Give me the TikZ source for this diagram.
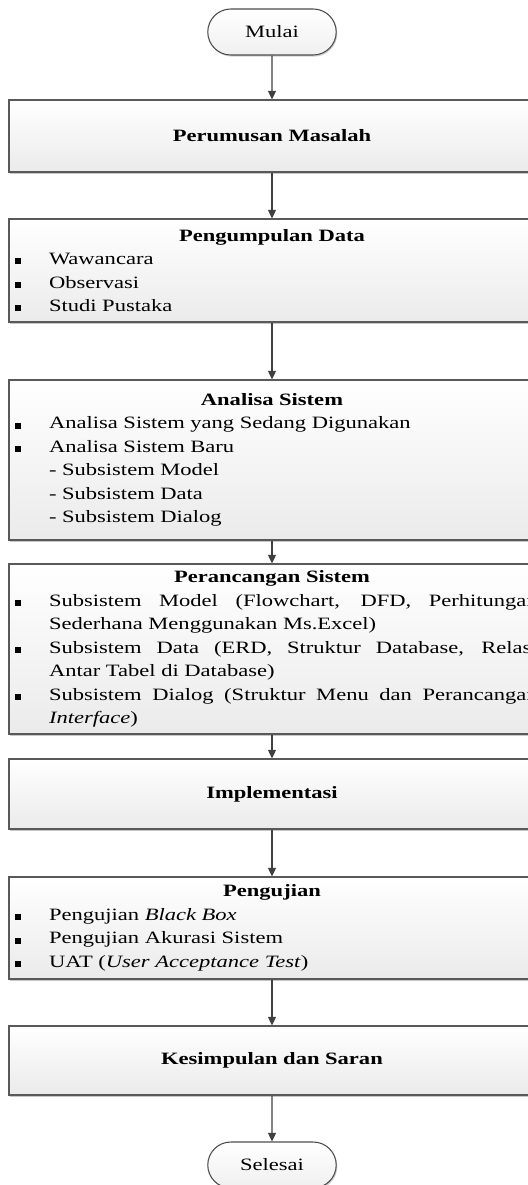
\documentclass[tikz,border=0pt]{standalone}
\usepackage{fontspec}
\setmainfont[FakeStretch=1.3]{Liberation Serif}
\usetikzlibrary{arrows.meta,shapes.misc,shadows}

\newcommand{\judul}[1]{{\centering\bfseries #1\par}}
\newcommand{\butir}[1]{{\spaceskip=0pt\rightskip=-5pt\noindent\hangindent=27pt\hangafter=1%
  \makebox[27pt][l]{\hspace{1.5pt}\rule[0.3pt]{4.5pt}{4.5pt}}#1\par}}
\newcommand{\subbutir}[1]{{\noindent\hspace*{27pt}#1\par}}

\begin{document}
\begin{tikzpicture}[x=0.75pt,y=-0.75pt,
  every node/.style={font=\fontsize{13}{17.6}\selectfont},
  kotak/.style={rectangle, draw=black!65, line width=0.8pt, align=justify,
    minimum width=394.5pt, text width=388.5pt, inner xsep=3pt, inner ysep=0pt,
    top color=white, bottom color=black!8,
    drop shadow={shadow xshift=0.8pt, shadow yshift=-1.5pt, fill=black!22, opacity=1}},
  terminal/.style={rounded rectangle, draw=black!70, line width=0.8pt,
    minimum width=103pt, minimum height=34.5pt,
    top color=white, bottom color=black!6,
    drop shadow={shadow xshift=0.8pt, shadow yshift=-1.2pt, fill=black!18, opacity=1}},
  panah/.style={draw=black!75, line width=1pt, -{Triangle[width=6pt,length=6.5pt]}}]
  \useasboundingbox (0,0) rectangle (528,1185);
  % Mulai
  \node[terminal] (mulai) at (272,32) {Mulai};
  % Perumusan masalah
  \node[kotak, minimum height=54pt] (rumusan) at (272,136)
    {\judul{Perumusan Masalah}};
  % Pengumpulan data
  \node[kotak, minimum height=77.25pt] (kumpul) at (272,270.5)
    {\judul{Pengumpulan Data}
     \butir{Wawancara}
     \butir{Observasi}
     \butir{Studi Pustaka}};
  % Analisa sistem
  \node[kotak, minimum height=120pt] (analisa) at (272,460)
    {\judul{Analisa Sistem}
     \butir{Analisa Sistem yang Sedang Digunakan}
     \butir{Analisa Sistem Baru}
     \subbutir{- Subsistem Model}
     \subbutir{- Subsistem Data}
     \subbutir{- Subsistem Dialog}};
  % Perancangan sistem
  \node[kotak, minimum height=127.5pt] (rancang) at (272,649)
    {\judul{Perancangan Sistem}
     \butir{Subsistem Model (Flowchart, DFD, Perhitungan\linebreak Sederhana Menggunakan Ms.Excel)}
     \butir{Subsistem Data (ERD, Struktur Database, Relasi\linebreak Antar Tabel di Database)}
     \butir{Subsistem Dialog (Struktur Menu dan Perancangan\linebreak \textit{Interface})}};
  % Implementasi
  \node[kotak, minimum height=52.5pt] (implementasi) at (272,794)
    {\judul{Implementasi}};
  % Pengujian
  \node[kotak, minimum height=76.5pt] (uji) at (272,928)
    {\judul{Pengujian}
     \butir{Pengujian \textit{Black Box}}
     \butir{Pengujian Akurasi Sistem}
     \butir{UAT (\textit{User Acceptance Test})}};
  % Kesimpulan dan saran
  \node[kotak, minimum height=51.75pt] (simpul) at (272,1060.5)
    {\judul{Kesimpulan dan Saran}};
  % Selesai
  \node[terminal] (selesai) at (272,1165) {Selesai};
  % Panah
  \draw[panah] (mulai) -- (rumusan);
  \draw[panah] (rumusan) -- (kumpul);
  \draw[panah] (kumpul) -- (analisa);
  \draw[panah] (analisa) -- (rancang);
  \draw[panah] (rancang) -- (implementasi);
  \draw[panah] (implementasi) -- (uji);
  \draw[panah] (uji) -- (simpul);
  \draw[panah] (simpul) -- (selesai);
\end{tikzpicture}
\end{document}
